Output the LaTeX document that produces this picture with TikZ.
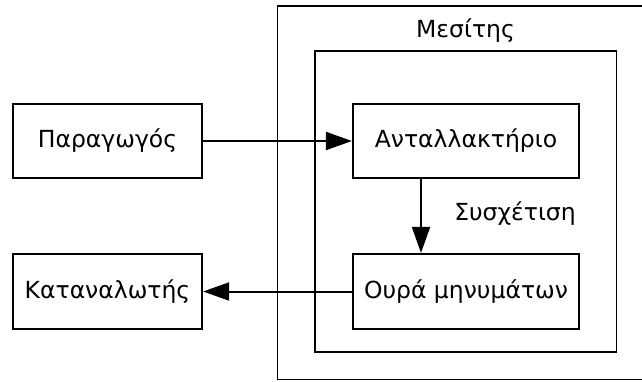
\documentclass[tikz,border=0pt]{standalone}
\usepackage{fontspec}
\setmainfont{DejaVu Sans}
\usetikzlibrary{arrows.meta, positioning, calc}

\tikzset{
  block/.style={draw, line width=2.2pt, minimum width=189pt, minimum height=74pt,
                font=\fontsize{23.5}{28}\selectfont, inner sep=0pt},
  wide/.style={block, minimum width=226pt},
  link/.style={line width=2pt, -{Triangle[length=26pt, width=18pt]}}
}

\begin{document}
\begin{tikzpicture}[x=1pt, y=-1pt]
      \useasboundingbox (0,0) rectangle (642,381);
      % broker frames
      \draw[line width=1.9pt] (277.5,6) rectangle (660,379.5);
      \draw[line width=1.9pt] (315,51) rectangle (616.5,352);
      \node[font=\fontsize{23.5}{28}\selectfont] (broker) at (465.5,31) {Μεσίτης};
      % boxes
      \node[block] (producer) at (107.5,141) {Παραγωγός};
      \node[block, minimum height=75pt] (consumer) at (107.5,291.5) {Καταναλωτής};
      \node[wide] (exchange) at (466,141) {Ανταλλακτήριο};
      \node[wide, minimum height=75pt] (queue) at (466,291.5) {Ουρά μηνυμάτων};
      % connectors
      \coordinate (bind) at (421,0);
      \draw[link] (producer) -- (exchange);
      \draw[link] (exchange.south -| bind) -- (queue.north -| bind);
      \draw[link] (queue) -- (consumer);
      \node[font=\fontsize{23.5}{28}\selectfont] (binding) at (515,214) {Συσχέτιση};
\end{tikzpicture}
\end{document}
